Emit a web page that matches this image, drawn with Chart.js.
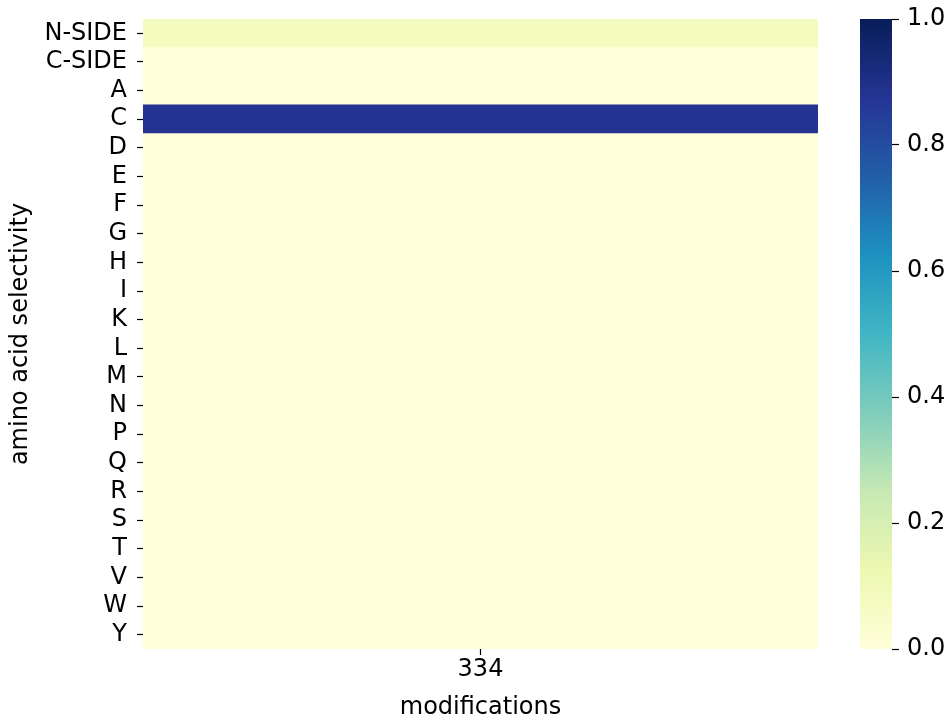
<!DOCTYPE html>
<html>
<head>
<meta charset="utf-8">
<script src="https://cdn.jsdelivr.net/npm/chart.js@4/dist/chart.umd.min.js"></script>
<style>
  html, body { margin: 0; padding: 0; background: #fff; }
  #wrap { position: relative; width: 949px; height: 722px; }
  #wrap canvas { position: absolute; left: 0; top: 0; }
</style>
</head>
<body>
<div id="wrap">
  <canvas id="heat" width="949" height="722"></canvas>
  <canvas id="cbar" width="949" height="722"></canvas>
</div>
<script>
// Residues a modification can target (rows) and modification ids (columns)
const rows = ['N-SIDE', 'C-SIDE', 'A', 'C', 'D', 'E', 'F', 'G', 'H', 'I', 'K',
              'L', 'M', 'N', 'P', 'Q', 'R', 'S', 'T', 'V', 'W', 'Y'];
const columns = ['334'];
// Selectivity fraction of modification 334 for each residue
const selectivity334 = [0.08, 0, 0, 0.88, 0, 0, 0, 0, 0, 0, 0,
                        0, 0, 0, 0, 0, 0, 0, 0, 0, 0, 0];
// Colour bar ticks
const colorbarTicks = [0.0, 0.2, 0.4, 0.6, 0.8, 1.0];

// YlGnBu colour map
const YLGNBU = ['#ffffd9', '#edf8b1', '#c7e9b4', '#7fcdbb', '#41b6c4',
                '#1d91c0', '#225ea8', '#253494', '#081d58'];
function hexToRgb(h) {
  return [parseInt(h.slice(1, 3), 16), parseInt(h.slice(3, 5), 16), parseInt(h.slice(5, 7), 16)];
}
function cmap(v) {
  v = Math.max(0, Math.min(1, v));
  const n = YLGNBU.length - 1;
  const p = v * n;
  const i = Math.min(Math.floor(p), n - 1);
  const t = p - i;
  const a = hexToRgb(YLGNBU[i]), b = hexToRgb(YLGNBU[i + 1]);
  const c = a.map((x, k) => Math.round(x + (b[k] - x) * t));
  return `rgb(${c[0]},${c[1]},${c[2]})`;
}

const FONT = { family: "'DejaVu Sans', sans-serif", size: 24 };
const TICK_FONT = { family: "'DejaVu Sans', sans-serif", size: 24, lineHeight: 1.0 };
Chart.defaults.color = '#000';
Chart.defaults.animation = false;

// Fixed axis sizes so the plot area sits at the same place in both canvases
function fixWidth(w) {
  return s => { s.width = w; s.paddingTop = 0; s.paddingBottom = 0; };
}
function fixHeight(h) {
  return s => { s.height = h; s.paddingLeft = 0; s.paddingRight = 0; };
}

// Each cell is a floating bar spanning one column of the value axis
new Chart(document.getElementById('heat'), {
  type: 'bar',
  data: {
    labels: rows,
    datasets: columns.map((col, ci) => ({
      label: col,
      data: selectivity334.map(() => [ci, ci + 1]),
      backgroundColor: selectivity334.map(v => cmap(v)),
      borderWidth: 0,
      categoryPercentage: 1.0,
      barPercentage: 1.0
    }))
  },
  options: {
    indexAxis: 'y',
    responsive: false,
    layout: { padding: { left: 0, top: 19, right: 131, bottom: 0 } },
    plugins: { legend: { display: false }, tooltip: { enabled: false } },
    scales: {
      y: {
        type: 'category',
        offset: true,
        border: { display: false },
        grid: { drawOnChartArea: false, offset: false, tickLength: 6, tickColor: '#000', tickWidth: 1.2 },
        ticks: { font: TICK_FONT, color: '#000', padding: 10, autoSkip: false },
        title: { display: true, text: 'amino acid selectivity', font: FONT, color: '#000', padding: { top: 6, bottom: 0 } },
        afterFit: fixWidth(143)
      },
      x: {
        type: 'linear',
        min: 0,
        max: columns.length,
        border: { display: false },
        grid: { drawOnChartArea: false, tickLength: 6, tickColor: '#000', tickWidth: 1.2 },
        afterBuildTicks: s => { s.ticks = columns.map((c, i) => ({ value: i + 0.5 })); },
        ticks: { font: FONT, color: '#000', padding: 0, callback: (v, i) => columns[i] },
        title: { display: true, text: 'modifications', font: FONT, color: '#000', padding: { top: 6, bottom: 0 } },
        afterFit: fixHeight(73)
      }
    }
  }
});

// Colour bar: gradient painted inside the chart area, value axis on the right
const gradientPlugin = {
  id: 'gradientFill',
  beforeDatasetsDraw(chart) {
    const { ctx, chartArea: a } = chart;
    const g = ctx.createLinearGradient(0, a.bottom, 0, a.top);
    YLGNBU.forEach((c, i) => g.addColorStop(i / (YLGNBU.length - 1), c));
    ctx.save();
    ctx.fillStyle = g;
    ctx.fillRect(a.left, a.top, a.right - a.left, a.bottom - a.top);
    ctx.restore();
  }
};

new Chart(document.getElementById('cbar'), {
  type: 'bar',
  data: { labels: [''], datasets: [{ data: [], borderWidth: 0 }] },
  options: {
    responsive: false,
    layout: { padding: { left: 860, top: 19, right: 0, bottom: 73 } },
    plugins: { legend: { display: false }, tooltip: { enabled: false } },
    scales: {
      x: { display: false },
      y: {
        position: 'right',
        min: 0,
        max: 1,
        border: { display: false },
        grid: { drawOnChartArea: false, tickLength: 7, tickColor: '#000', tickWidth: 1.2 },
        afterBuildTicks: s => { s.ticks = colorbarTicks.map(v => ({ value: v })); },
        ticks: { font: TICK_FONT, color: '#000', padding: 8, callback: v => v.toFixed(1) },
        afterFit: fixWidth(57)
      }
    }
  },
  plugins: [gradientPlugin]
});
</script>
</body>
</html>
